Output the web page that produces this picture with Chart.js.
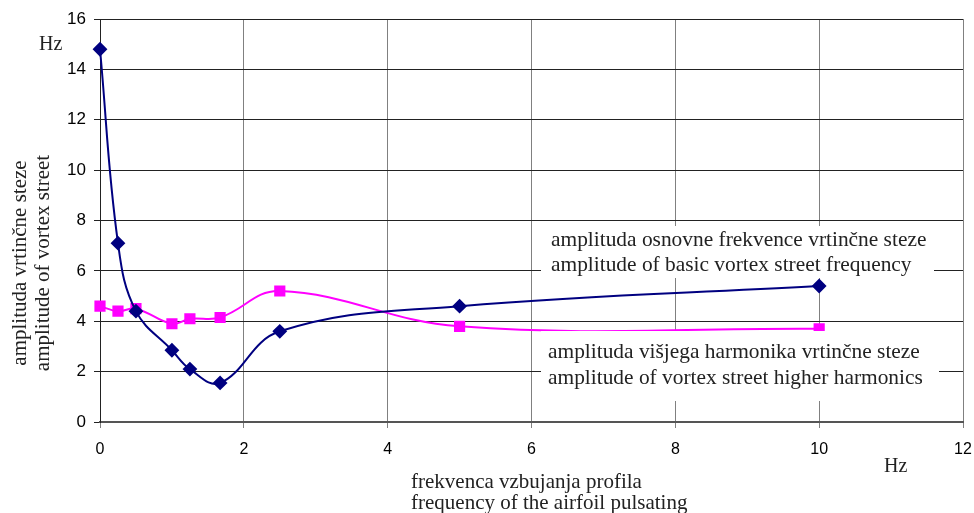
<!DOCTYPE html>
<html lang="en">
<head>
    <meta charset="UTF-8">
    <title>Amplituda vrtinčne steze</title>
    <script src="https://cdn.jsdelivr.net/npm/chart.js"></script>
    <style>
        body { margin: 0; background: #fff; }
        .wrap { position: relative; width: 974px; height: 513px; }
    </style>
</head>
<body>
    <div class="wrap">
        <canvas id="vortexChart" width="974" height="513"></canvas>
    </div>

    <script>
        // excitation frequency (Hz)
        const frequencies = [0, 0.25, 0.5, 1.0, 1.25, 1.67, 2.5, 5, 10];
        // amplitude of basic vortex street frequency
        const basicAmp = [14.8, 7.1, 4.4, 2.85, 2.1, 1.55, 3.6, 4.6, 5.4];
        // amplitude of vortex street higher harmonics
        const harmonicAmp = [4.6, 4.4, 4.5, 3.9, 4.1, 4.15, 5.2, 3.8, 3.7];

        const xTicks = [0, 2, 4, 6, 8, 10, 12];
        const yTicks = [0, 2, 4, 6, 8, 10, 12, 14, 16];

        const toPoints = (xs, ys) => xs.map((x, i) => ({ x: x, y: ys[i] }));

        const serif = '"Liberation Serif", "Times New Roman", serif';
        const sans = '"Liberation Sans", Arial, sans-serif';

        // text labels drawn on top of the plot
        const labelsPlugin = {
            id: 'labels',
            afterDraw(chart) {
                const ctx = chart.ctx;
                ctx.save();
                ctx.textBaseline = 'middle';
                ctx.textAlign = 'left';

                // white boxes behind the series labels
                ctx.fillStyle = '#fff';
                ctx.fillRect(541, 226, 393, 52);
                ctx.fillRect(541, 331, 398, 70);

                ctx.fillStyle = '#222';
                ctx.font = '21.4px ' + serif;
                ctx.fillText('amplituda osnovne frekvence vrtinčne steze', 551, 240);
                ctx.fillText('amplitude of basic vortex street frequency', 551, 265);
                ctx.fillText('amplituda višjega harmonika vrtinčne steze', 548, 352);
                ctx.fillText('amplitude of vortex street higher harmonics', 548, 378);

                // axis titles
                ctx.font = '21px ' + serif;
                ctx.fillText('frekvenca vzbujanja profila', 411, 482);
                ctx.fillText('frequency of the airfoil pulsating', 411, 503);
                ctx.font = '20px ' + serif;
                ctx.fillText('Hz', 884, 467);
                ctx.fillText('Hz', 39, 45);

                ctx.font = '21px ' + serif;
                ctx.translate(20, 263);
                ctx.rotate(-Math.PI / 2);
                ctx.textAlign = 'center';
                ctx.fillText('amplituda vrtinčne steze', 0, 0);
                ctx.fillText('amplitude of vortex street', 0, 23);
                ctx.restore();
            }
        };

        const ctx = document.getElementById('vortexChart').getContext('2d');
        const vortexChart = new Chart(ctx, {
            type: 'scatter',
            data: {
                datasets: [{
                    label: 'amplituda osnovne frekvence vrtinčne steze',
                    data: toPoints(frequencies, basicAmp),
                    showLine: true,
                    borderColor: '#000080',
                    backgroundColor: '#000080',
                    borderWidth: 2,
                    tension: 0.4,
                    pointStyle: 'rectRot',
                    pointRadius: 6,
                    pointHoverRadius: 6,
                    clip: false
                }, {
                    label: 'amplituda višjega harmonika vrtinčne steze',
                    data: toPoints(frequencies, harmonicAmp),
                    showLine: true,
                    borderColor: '#FF00FF',
                    backgroundColor: '#FF00FF',
                    borderWidth: 2,
                    tension: 0.4,
                    pointStyle: 'rect',
                    pointRadius: 6.5,
                    pointHoverRadius: 6.5,
                    clip: false
                }]
            },
            options: {
                responsive: false,
                animation: false,
                layout: { padding: { top: 19, right: 11, left: 0, bottom: 0 } },
                plugins: {
                    legend: { display: false },
                    tooltip: { enabled: false }
                },
                scales: {
                    x: {
                        type: 'linear',
                        min: 0,
                        max: 12,
                        afterBuildTicks(scale) {
                            scale.ticks = xTicks.map(v => ({ value: v }));
                        },
                        afterFit(scale) {
                            scale.height = 91;
                            scale.paddingRight = 0;
                            scale.paddingLeft = 0;
                        },
                        grid: { color: '#808080', lineWidth: 1, tickLength: 6 },
                        border: { color: '#555', width: 2 },
                        ticks: {
                            color: '#000',
                            font: { family: sans, size: 16 },
                            padding: 12
                        }
                    },
                    y: {
                        type: 'linear',
                        min: 0,
                        max: 16,
                        afterBuildTicks(scale) {
                            scale.ticks = yTicks.map(v => ({ value: v }));
                        },
                        afterFit(scale) {
                            scale.width = 100;
                            scale.paddingTop = 0;
                            scale.paddingBottom = 0;
                        },
                        grid: { color: '#222', lineWidth: 1, tickLength: 6 },
                        border: { color: '#222', width: 1 },
                        ticks: {
                            color: '#000',
                            font: { family: sans, size: 17 },
                            padding: 8
                        }
                    }
                }
            },
            plugins: [labelsPlugin]
        });
    </script>
</body>
</html>
